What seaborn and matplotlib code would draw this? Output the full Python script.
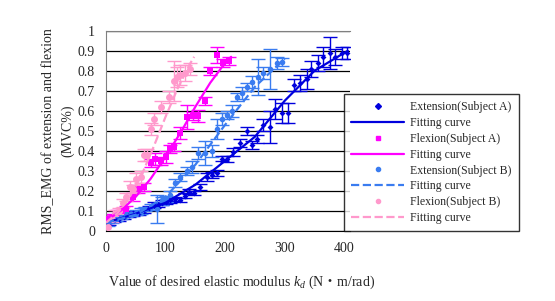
import seaborn as sns
import pandas as pd
import matplotlib.pyplot as plt
import numpy as np

# --- measured points (x: desired elastic modulus, y: RMS_EMG, err: +-) ---
ext_a_x = [5, 13, 22, 30, 38, 46, 55, 63, 72, 80, 88, 94, 101, 108, 116, 125, 132, 139, 147, 158,
           169, 178, 186, 194, 203, 214, 225, 236, 245, 253, 264, 275, 284, 295, 306, 315, 326, 337,
           345, 356, 365, 376, 385, 396, 404]
ext_a_y = [0.04, 0.053, 0.06, 0.07, 0.08, 0.087, 0.09, 0.10, 0.115, 0.13, 0.13, 0.14, 0.145, 0.153,
           0.16, 0.153, 0.175, 0.195, 0.187, 0.22, 0.27, 0.28, 0.29, 0.36, 0.36, 0.395, 0.44, 0.50,
           0.43, 0.46, 0.53, 0.52, 0.61, 0.59, 0.59, 0.73, 0.74, 0.76, 0.81, 0.84, 0.87, 0.89, 0.87,
           0.89, 0.89]
ext_a_err = [0.01, 0.01, 0.01, 0.01, 0.01, 0.012, 0.01, 0.012, 0.01, 0.015, 0.01, 0.012, 0.01, 0.012,
             0.01, 0.01, 0.012, 0.012, 0.01, 0.015, 0.02, 0.015, 0.015, 0.012, 0.015, 0.02, 0.02, 0.02,
             0.02, 0.02, 0.03, 0.08, 0.05, 0.05, 0.05, 0.03, 0.04, 0.05, 0.04, 0.04, 0.05, 0.08, 0.04,
             0.03, 0.03]

flex_a_x = [4, 10, 18, 27, 34, 45, 53, 63, 75, 83, 92, 100, 107, 114, 125, 136, 146, 155, 167, 175,
            186, 197, 206]
flex_a_y = [0.06, 0.07, 0.09, 0.10, 0.11, 0.17, 0.21, 0.22, 0.34, 0.36, 0.35, 0.37, 0.41, 0.42, 0.49,
            0.57, 0.575, 0.575, 0.65, 0.80, 0.88, 0.84, 0.85]
flex_a_err = [0.02, 0.015, 0.015, 0.015, 0.015, 0.02, 0.02, 0.02, 0.02, 0.03, 0.02, 0.03, 0.02, 0.02,
              0.03, 0.06, 0.02, 0.03, 0.02, 0.02, 0.04, 0.02, 0.02]

ext_b_x = [4, 10, 17, 25, 33, 42, 50, 58, 66, 75, 85, 94, 101, 108, 116, 125, 136, 144, 155, 167,
           178, 186, 194, 203, 212, 220, 228, 236, 245, 256, 264, 275, 287, 295]
ext_b_y = [0.045, 0.05, 0.06, 0.07, 0.08, 0.085, 0.09, 0.10, 0.11, 0.12, 0.11, 0.15, 0.16, 0.18, 0.24,
           0.27, 0.30, 0.32, 0.39, 0.39, 0.40, 0.51, 0.56, 0.58, 0.60, 0.67, 0.69, 0.72, 0.745, 0.77,
           0.79, 0.81, 0.84, 0.845]
ext_b_err = [0.02, 0.01, 0.01, 0.01, 0.012, 0.01, 0.012, 0.015, 0.01, 0.015, 0.07, 0.02, 0.015, 0.02,
             0.02, 0.02, 0.02, 0.03, 0.03, 0.06, 0.03, 0.05, 0.03, 0.02, 0.03, 0.02, 0.03, 0.02, 0.03,
             0.09, 0.03, 0.1, 0.03, 0.02]

flex_b_x = [4, 10, 15, 22, 29, 34, 40, 46, 51, 58, 64, 68, 75, 81, 92, 105, 114, 120, 125, 133, 141]
flex_b_y = [0.02, 0.06, 0.09, 0.10, 0.14, 0.17, 0.22, 0.21, 0.26, 0.27, 0.38, 0.38, 0.51, 0.56, 0.62,
            0.67, 0.75, 0.77, 0.78, 0.79, 0.81]
flex_b_err = [0.04, 0.015, 0.015, 0.015, 0.02, 0.02, 0.03, 0.02, 0.03, 0.03, 0.03, 0.03, 0.03, 0.03,
              0.03, 0.03, 0.1, 0.05, 0.05, 0.04, 0.03]

# --- fitting curves ---
fit_ext_a_x = [0, 50, 100, 150, 200, 250, 300, 350, 400, 406]
fit_ext_a_y = [0.04, 0.085, 0.14, 0.23, 0.35, 0.47, 0.65, 0.80, 0.89, 0.90]
fit_flex_a_x = [0, 25, 50, 75, 100, 125, 150, 175, 200, 210]
fit_flex_a_y = [0.05, 0.10, 0.17, 0.26, 0.37, 0.49, 0.62, 0.74, 0.84, 0.87]
fit_ext_b_x = [0, 50, 100, 150, 200, 250, 300]
fit_ext_b_y = [0.04, 0.08, 0.17, 0.33, 0.53, 0.72, 0.86]
fit_flex_b_x = [0, 20, 40, 60, 80, 100, 120, 140, 148]
fit_flex_b_y = [0.04, 0.09, 0.17, 0.28, 0.42, 0.57, 0.71, 0.83, 0.87]

labels = ['Extension(Subject A)', 'Flexion(Subject A)', 'Extension(Subject B)', 'Flexion(Subject B)']

sns.set_style('white')
plt.rcParams['font.family'] = ['Liberation Serif', 'Noto Sans CJK JP']
plt.rcParams['mathtext.fontset'] = 'custom'
plt.rcParams['mathtext.it'] = 'Liberation Serif:italic'
plt.rcParams['mathtext.rm'] = 'Noto Sans CJK JP'

fig = plt.figure(figsize=(5.55, 3.01), dpi=100)
ax = fig.add_axes([0.191, 0.2336, 0.44, 0.664])

series = [
    (ext_a_x, ext_a_y, ext_a_err, fit_ext_a_x, fit_ext_a_y, '#0000dd', 'D', 3, '-'),
    (flex_a_x, flex_a_y, flex_a_err, fit_flex_a_x, fit_flex_a_y, '#ff00ff', 's', 5, '-'),
    (ext_b_x, ext_b_y, ext_b_err, fit_ext_b_x, fit_ext_b_y, '#3a7cf0', 'o', 4, '--'),
    (flex_b_x, flex_b_y, flex_b_err, fit_flex_b_x, fit_flex_b_y, '#ff99cc', 'o', 5, '--'),
]

handles = []
names = []
for (x, y, e, fx, fy, col, mk, ms, ls), lab in zip(series, labels):
    ax.errorbar(x, y, yerr=e, fmt='none', ecolor=col, elinewidth=1, capsize=5, capthick=1, zorder=2)
    pts = pd.DataFrame({'x': x, 'y': y})
    sns.scatterplot(data=pts, x='x', y='y', color=col, marker=mk, s=ms ** 2, edgecolor=col,
                    linewidth=0, ax=ax, zorder=3)
    fit = pd.DataFrame({'x': fx, 'y': fy})
    sns.lineplot(data=fit, x='x', y='y', color=col, linewidth=1.6, linestyle=ls, ax=ax,
                 sort=False, zorder=4)
    handles.append(plt.Line2D([], [], color=col, marker=mk, markersize=3, linestyle='none'))
    names.append(lab)
    handles.append(plt.Line2D([], [], color=col, linewidth=1.6, linestyle=ls))
    names.append('Fitting curve')

ax.set_xlim(0, 410)
ax.set_ylim(0, 1)
ax.set_xticks([0, 100, 200, 300, 400])
ax.set_yticks(np.arange(0, 1.01, 0.1))
ax.set_yticklabels(['0'] + ['%.1f' % v for v in np.arange(0.1, 0.95, 0.1)] + ['1'])
ax.yaxis.grid(True, color='black', linewidth=0.9)
ax.set_axisbelow(True)
ax.tick_params(axis='x', direction='in', length=4, labelsize=10, pad=8, color='black')
ax.tick_params(axis='y', length=0, labelsize=10, pad=8)
ax.spines['right'].set_visible(False)
ax.spines['top'].set_color('#808080')
ax.spines['left'].set_color('#808080')
ax.spines['bottom'].set_color('black')
ax.set_xlabel('')
ax.set_ylabel('RMS_EMG of extension and flexion\n(MVC%)', fontsize=10, labelpad=2,
              linespacing=1.6)
fig.text(0.435, 0.063, r'Value of desired elastic modulus $k_d$ (N$\mathrm{・}$m/rad)', ha='center',
         va='center', fontsize=10)

leg = fig.legend(handles, names, loc='upper left', bbox_to_anchor=(0.62, 0.688), fontsize=8.5,
                 frameon=True, fancybox=False, handlelength=4.5, labelspacing=0.33,
                 borderpad=0.6, handletextpad=0.5, borderaxespad=0)
leg.get_frame().set_edgecolor('black')
leg.get_frame().set_linewidth(1.0)

plt.savefig('out.png', dpi=100)
